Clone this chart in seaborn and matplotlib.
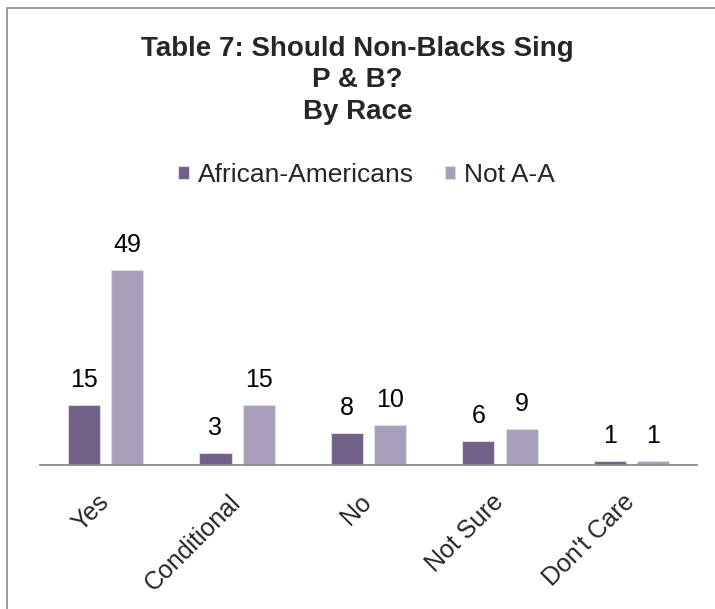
import matplotlib
matplotlib.use("Agg")
import matplotlib.pyplot as plt
import matplotlib.transforms as mtransforms
from matplotlib.patches import Rectangle
import pandas as pd
import seaborn as sns

categories = ["Yes", "Conditional", "No", "Not Sure", "Don't Care"]
african_americans = [15, 3, 8, 6, 1]
not_aa = [49, 15, 10, 9, 1]
series_names = ["African-Americans", "Not A-A"]

df = pd.DataFrame({
    "answer": categories * 2,
    "count": african_americans + not_aa,
    "group": [series_names[0]] * len(categories) + [series_names[1]] * len(categories),
})

sns.set_theme(style="white")
plt.rcParams["font.family"] = ["Liberation Sans", "DejaVu Sans"]

fig = plt.figure(figsize=(7.15, 6.09), dpi=100)
ax = fig.add_axes([0.056, 0.2365, 0.919, 0.3596])

palette = {series_names[0]: "#71598f", series_names[1]: "#a99bbe"}
sns.barplot(data=df, x="answer", y="count", hue="group", order=categories,
            hue_order=series_names, palette=palette, width=0.66, gap=0.26,
            edgecolor="#dcdcdc", linewidth=0.8, ax=ax)

for cont in ax.containers:
    ax.bar_label(cont, padding=9.5, fontsize=18, color="black")

ax.set_ylim(0, 55)
ax.set_xlim(-0.5, 4.5)
ax.set_xlabel("")
ax.set_ylabel("")
ax.set_yticks([])
for s in ["top", "right", "left"]:
    ax.spines[s].set_visible(False)
ax.spines["bottom"].set_color("#8a8a8a")
ax.spines["bottom"].set_linewidth(1.3)
ax.tick_params(axis="x", length=0, pad=0)

# rotated labels end at the category centre, about 25 px under the axis
offset = mtransforms.ScaledTranslation(-9 / 100, -25 / 100, fig.dpi_scale_trans)
for lab in ax.get_xticklabels():
    lab.set_rotation(45)
    lab.set_ha("right")
    lab.set_va("top")
    lab.set_rotation_mode("anchor")
    lab.set_fontsize(18)
    lab.set_transform(lab.get_transform() + offset)

ax.legend(loc="center", bbox_to_anchor=(0.513, 1 - 175 / 609), bbox_transform=fig.transFigure,
          ncol=2, frameon=False, fontsize=19, handlelength=0.4, handleheight=0.4,
          handletextpad=0.35, columnspacing=1.15)

fig.text(0.5, 1 - 36 / 609, "Table 7: Should Non-Blacks Sing\nP & B?\nBy Race",
         ha="center", va="top", fontsize=20, fontweight="bold", linespacing=1.27,
         transform=fig.transFigure)

fig.add_artist(Rectangle((7 / 715, -0.1), 1.2, 1 - 8 / 609 + 0.1, transform=fig.transFigure,
                         fill=False, edgecolor="#8c8c8c", linewidth=1.2))

fig.savefig("out.png", dpi=100)
